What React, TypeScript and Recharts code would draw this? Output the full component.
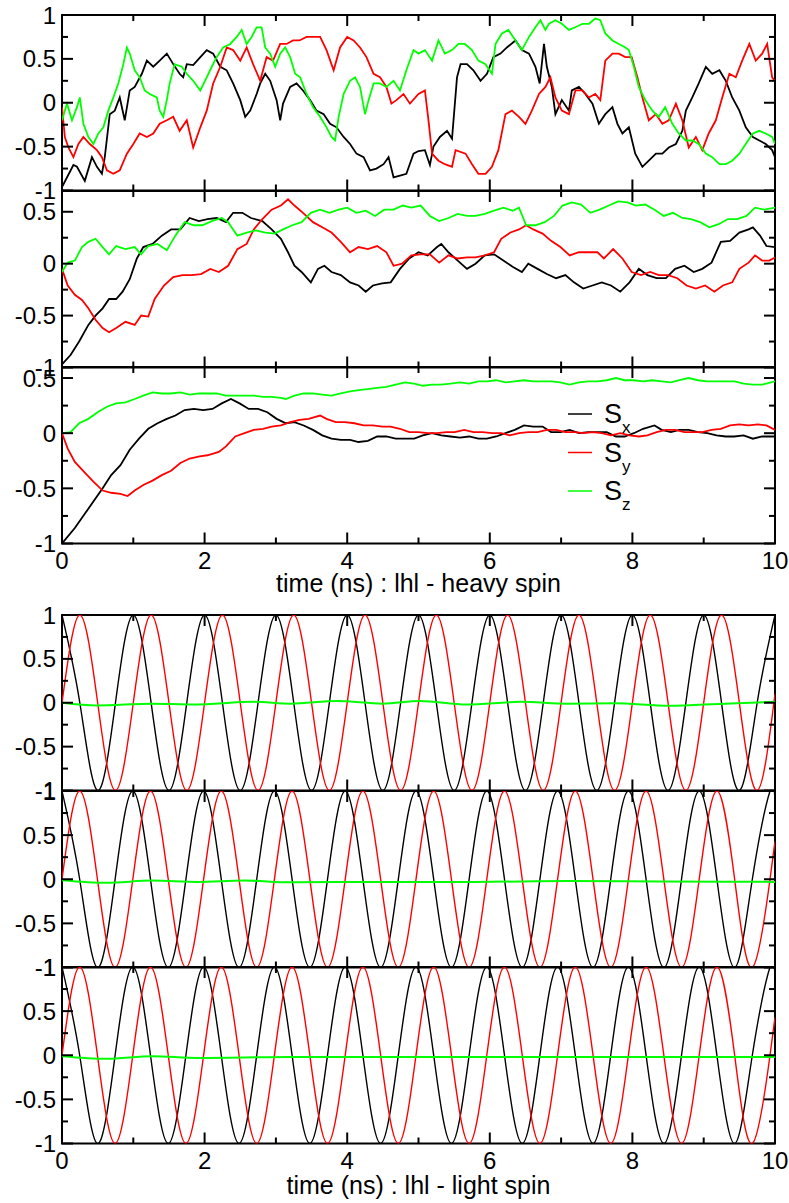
import React from 'react';
import { LineChart, Line, XAxis, YAxis, ReferenceArea, Legend } from 'recharts';

type Pt = [number, number];

const FONT = "'Liberation Sans', Arial, Helvetica, sans-serif";
const BLACK = '#000000';
const RED = '#ff0000';
const GREEN = '#00ff00';

const xTicks = [0, 1, 2, 3, 4, 5, 6, 7, 8, 9, 10];
const yTicksFull = [-1, -0.75, -0.5, -0.25, 0, 0.25, 0.5, 0.75, 1];
const yTicksShort = [-1, -0.75, -0.5, -0.25, 0, 0.25, 0.5];
const spinNames = ['x', 'y', 'z'];

// heavy spin, panel 1
const h1Sx: Pt[] = [
  [0, -0.96], [0.16, -0.71], [0.21, -0.73], [0.32, -0.89], [0.42, -0.62], [0.49, -0.73], [0.56, -0.81], [0.6, -0.62],
  [0.67, -0.13], [0.74, -0.09], [0.81, 0.06], [0.88, -0.2], [0.95, 0.14], [1.02, 0.18], [1.12, 0.33], [1.19, 0.48],
  [1.28, 0.41], [1.37, 0.48], [1.47, 0.56], [1.56, 0.44], [1.65, 0.33], [1.7, 0.29], [1.75, 0.44], [1.84, 0.43],
  [1.94, 0.52], [2.03, 0.6], [2.12, 0.56], [2.22, 0.41], [2.31, 0.37], [2.4, 0.22], [2.5, 0.03], [2.57, -0.16],
  [2.64, -0.09], [2.73, 0.1], [2.78, 0.22], [2.85, 0.33], [2.92, 0.25], [3.01, 0.03], [3.06, -0.2], [3.1, -0.01],
  [3.2, 0.18], [3.29, 0.22], [3.38, 0.14], [3.48, 0.03], [3.57, -0.09], [3.67, -0.13], [3.76, -0.24], [3.85, -0.28],
  [3.95, -0.39], [4.04, -0.47], [4.13, -0.58], [4.23, -0.62], [4.32, -0.77], [4.41, -0.75], [4.51, -0.7], [4.58, -0.62],
  [4.65, -0.85], [4.74, -0.83], [4.83, -0.81], [4.93, -0.58], [5.0, -0.55], [5.09, -0.54], [5.16, -0.71], [5.21, -0.5],
  [5.3, -0.39], [5.4, -0.32], [5.47, -0.41], [5.54, 0.29], [5.59, 0.44], [5.68, 0.44], [5.77, 0.37], [5.87, 0.25],
  [5.96, 0.33], [6.05, 0.52], [6.15, 0.56], [6.24, 0.63], [6.36, 0.71], [6.45, 0.6], [6.55, 0.56], [6.64, 0.41],
  [6.7, 0.22], [6.76, 0.67], [6.8, 0.41], [6.87, 0.18], [6.92, -0.13], [7.01, 0.03], [7.11, -0.09], [7.15, 0.14],
  [7.25, 0.18], [7.34, 0.1], [7.44, -0.01], [7.53, -0.24], [7.62, -0.13], [7.72, -0.05], [7.79, -0.24], [7.86, -0.35],
  [7.95, -0.28], [8.04, -0.58], [8.14, -0.73], [8.23, -0.66], [8.33, -0.58], [8.42, -0.58], [8.51, -0.51], [8.61, -0.47],
  [8.7, -0.32], [8.75, -0.09], [8.84, 0.06], [8.93, 0.22], [9.03, 0.41], [9.12, 0.33], [9.22, 0.37], [9.31, 0.25],
  [9.4, 0.06], [9.5, -0.09], [9.59, -0.28], [9.69, -0.39], [9.78, -0.43], [9.87, -0.47], [9.96, -0.54], [10, -0.62],
];
const h1Sy: Pt[] = [
  [0, -0.05], [0.04, -0.39], [0.09, -0.51], [0.16, -0.62], [0.23, -0.47], [0.3, -0.39], [0.39, -0.47], [0.49, -0.54],
  [0.56, -0.62], [0.63, -0.77], [0.72, -0.81], [0.81, -0.77], [0.91, -0.58], [1.0, -0.47], [1.09, -0.35], [1.19, -0.39],
  [1.28, -0.35], [1.37, -0.24], [1.47, -0.2], [1.56, -0.16], [1.65, -0.32], [1.75, -0.2], [1.84, -0.51], [1.94, -0.28],
  [2.03, -0.09], [2.12, 0.22], [2.22, 0.41], [2.31, 0.63], [2.4, 0.6], [2.5, 0.48], [2.59, 0.63], [2.68, 0.44],
  [2.78, 0.25], [2.87, 0.52], [2.96, 0.48], [3.06, 0.67], [3.15, 0.67], [3.24, 0.71], [3.33, 0.71], [3.43, 0.75],
  [3.52, 0.75], [3.62, 0.75], [3.71, 0.6], [3.81, 0.37], [3.9, 0.63], [4.0, 0.75], [4.09, 0.71], [4.18, 0.63],
  [4.27, 0.52], [4.37, 0.33], [4.46, 0.29], [4.55, 0.18], [4.62, -0.01], [4.69, 0.03], [4.79, 0.1], [4.88, -0.01],
  [5.0, 0.1], [5.09, 0.14], [5.14, -0.2], [5.19, -0.58], [5.28, -0.66], [5.37, -0.7], [5.47, -0.73], [5.52, -0.54],
  [5.66, -0.58], [5.75, -0.7], [5.84, -0.81], [5.94, -0.81], [6.03, -0.73], [6.12, -0.54], [6.22, -0.13], [6.31, -0.09],
  [6.41, -0.16], [6.5, -0.24], [6.59, -0.09], [6.69, 0.1], [6.78, 0.18], [6.85, 0.29], [6.92, 0.06], [7.01, -0.09],
  [7.11, -0.13], [7.2, 0.14], [7.3, 0.14], [7.39, 0.06], [7.48, 0.1], [7.55, 0.03], [7.62, 0.48], [7.72, 0.56],
  [7.81, 0.56], [7.9, 0.52], [7.99, 0.52], [8.07, 0.29], [8.14, 0.06], [8.23, -0.2], [8.33, -0.13], [8.42, -0.24],
  [8.51, -0.2], [8.61, -0.01], [8.7, -0.2], [8.79, -0.51], [8.89, -0.39], [8.98, -0.54], [9.07, -0.35], [9.17, -0.2],
  [9.26, 0.06], [9.36, 0.33], [9.45, 0.29], [9.54, 0.48], [9.64, 0.67], [9.73, 0.48], [9.82, 0.56], [9.89, 0.67],
  [9.96, 0.29], [10, 0.25],
];
const h1Sz: Pt[] = [
  [0, -0.2], [0.07, -0.01], [0.14, -0.2], [0.21, -0.05], [0.25, 0.06], [0.3, -0.24], [0.37, -0.39], [0.44, -0.47],
  [0.51, -0.35], [0.58, -0.28], [0.65, -0.09], [0.72, 0.06], [0.79, 0.22], [0.86, 0.44], [0.91, 0.63], [0.95, 0.56],
  [1.02, 0.37], [1.09, 0.29], [1.16, 0.14], [1.23, 0.1], [1.33, 0.06], [1.37, -0.09], [1.42, -0.16], [1.47, 0.03],
  [1.51, 0.22], [1.58, 0.44], [1.68, 0.41], [1.75, 0.33], [1.84, 0.25], [1.94, 0.14], [2.03, 0.29], [2.1, 0.41],
  [2.17, 0.52], [2.26, 0.63], [2.36, 0.67], [2.45, 0.75], [2.52, 0.83], [2.59, 0.67], [2.66, 0.75], [2.73, 0.86],
  [2.8, 0.86], [2.85, 0.63], [2.92, 0.56], [2.99, 0.41], [3.06, 0.56], [3.13, 0.63], [3.2, 0.52], [3.27, 0.33],
  [3.34, 0.29], [3.43, 0.1], [3.52, -0.05], [3.62, -0.16], [3.71, -0.28], [3.78, -0.39], [3.83, -0.43], [3.88, -0.16],
  [3.95, 0.1], [4.04, 0.25], [4.11, 0.29], [4.18, 0.18], [4.25, -0.13], [4.3, 0.03], [4.37, 0.22], [4.46, 0.22],
  [4.55, 0.18], [4.65, 0.25], [4.74, 0.14], [4.83, 0.37], [4.93, 0.6], [5.0, 0.56], [5.09, 0.6], [5.19, 0.48],
  [5.28, 0.71], [5.37, 0.56], [5.47, 0.6], [5.56, 0.67], [5.65, 0.67], [5.75, 0.6], [5.84, 0.48], [5.94, 0.44],
  [6.03, 0.33], [6.08, 0.67], [6.17, 0.79], [6.26, 0.83], [6.36, 0.71], [6.45, 0.6], [6.55, 0.75], [6.64, 0.86],
  [6.71, 0.94], [6.78, 0.83], [6.83, 0.9], [6.92, 0.94], [7.01, 0.9], [7.11, 0.83], [7.2, 0.86], [7.3, 0.9],
  [7.39, 0.9], [7.48, 0.96], [7.55, 0.94], [7.62, 0.79], [7.72, 0.71], [7.81, 0.67], [7.9, 0.63], [7.95, 0.6],
  [8.02, 0.41], [8.09, 0.18], [8.18, 0.03], [8.28, -0.09], [8.37, -0.16], [8.46, -0.05], [8.56, -0.24], [8.65, -0.35],
  [8.75, -0.43], [8.84, -0.43], [8.93, -0.47], [9.03, -0.58], [9.12, -0.62], [9.22, -0.7], [9.31, -0.7], [9.4, -0.66],
  [9.5, -0.58], [9.59, -0.47], [9.69, -0.35], [9.78, -0.32], [9.87, -0.35], [9.96, -0.39], [10, -0.47],
];

// heavy spin, panel 2
const h2Sx: Pt[] = [
  [0, -0.97], [0.12, -0.88], [0.24, -0.75], [0.37, -0.59], [0.47, -0.5], [0.57, -0.43], [0.66, -0.34], [0.76, -0.34],
  [0.85, -0.27], [0.95, -0.15], [1.05, 0.05], [1.14, 0.16], [1.27, 0.19], [1.4, 0.27], [1.53, 0.33], [1.66, 0.33],
  [1.79, 0.44], [1.92, 0.41], [2.04, 0.43], [2.17, 0.44], [2.3, 0.4], [2.4, 0.49], [2.53, 0.49], [2.65, 0.44],
  [2.81, 0.41], [2.94, 0.33], [3.07, 0.24], [3.17, 0.11], [3.26, -0.02], [3.36, -0.08], [3.49, -0.18], [3.59, -0.05],
  [3.68, -0.02], [3.78, -0.08], [3.91, -0.11], [4.04, -0.18], [4.16, -0.21], [4.26, -0.27], [4.36, -0.21], [4.49, -0.19],
  [4.61, -0.18], [4.74, -0.05], [4.87, 0.05], [5.0, 0.11], [5.13, 0.08], [5.26, 0.16], [5.32, 0.19], [5.42, 0.11],
  [5.55, 0.03], [5.68, -0.05], [5.8, 0.0], [5.93, 0.08], [6.06, 0.09], [6.19, 0.03], [6.32, -0.03], [6.45, -0.08],
  [6.54, 0.0], [6.67, -0.05], [6.8, -0.1], [6.93, -0.14], [7.06, -0.11], [7.18, -0.18], [7.31, -0.24], [7.44, -0.21],
  [7.57, -0.18], [7.7, -0.21], [7.83, -0.27], [7.96, -0.18], [8.09, -0.05], [8.21, -0.11], [8.34, -0.14], [8.47, -0.14],
  [8.6, -0.05], [8.73, -0.02], [8.86, -0.08], [8.98, -0.05], [9.11, 0.01], [9.24, 0.21], [9.37, 0.22], [9.5, 0.3],
  [9.63, 0.33], [9.69, 0.35], [9.79, 0.27], [9.88, 0.17], [10, 0.16],
];
const h2Sy: Pt[] = [
  [0, -0.05], [0.08, -0.21], [0.18, -0.3], [0.28, -0.35], [0.37, -0.43], [0.47, -0.54], [0.57, -0.62], [0.66, -0.66],
  [0.76, -0.62], [0.89, -0.56], [1.02, -0.59], [1.11, -0.5], [1.21, -0.51], [1.3, -0.34], [1.43, -0.21], [1.56, -0.13],
  [1.69, -0.11], [1.82, -0.11], [1.95, -0.1], [2.08, -0.05], [2.2, -0.08], [2.33, -0.02], [2.46, 0.14], [2.59, 0.19],
  [2.69, 0.33], [2.81, 0.43], [2.94, 0.52], [3.07, 0.56], [3.17, 0.62], [3.26, 0.56], [3.38, 0.49], [3.52, 0.4],
  [3.65, 0.35], [3.78, 0.3], [3.91, 0.21], [4.04, 0.11], [4.16, 0.16], [4.29, 0.14], [4.42, 0.17], [4.55, 0.11],
  [4.65, -0.02], [4.77, 0.0], [4.9, 0.08], [5.03, 0.09], [5.16, 0.09], [5.29, 0.01], [5.42, 0.08], [5.55, 0.05],
  [5.68, 0.06], [5.8, 0.06], [5.93, 0.08], [6.06, 0.11], [6.16, 0.24], [6.29, 0.3], [6.41, 0.33], [6.51, 0.37],
  [6.61, 0.33], [6.74, 0.29], [6.86, 0.22], [6.99, 0.16], [7.12, 0.08], [7.25, 0.11], [7.37, 0.11], [7.51, 0.11],
  [7.6, 0.05], [7.73, 0.14], [7.86, 0.05], [7.99, -0.08], [8.12, -0.11], [8.25, -0.08], [8.37, -0.11], [8.5, -0.11],
  [8.63, -0.14], [8.76, -0.21], [8.89, -0.24], [9.02, -0.21], [9.15, -0.27], [9.27, -0.21], [9.4, -0.18], [9.5, -0.05],
  [9.63, 0.01], [9.72, 0.08], [9.82, 0.03], [9.92, 0.03], [10, 0.06],
];
const h2Sz: Pt[] = [
  [0, -0.08], [0.08, 0.01], [0.18, 0.03], [0.28, 0.16], [0.37, 0.21], [0.47, 0.24], [0.57, 0.16], [0.66, 0.09],
  [0.76, 0.17], [0.89, 0.14], [1.02, 0.16], [1.11, 0.09], [1.21, 0.17], [1.34, 0.19], [1.47, 0.13], [1.59, 0.27],
  [1.72, 0.4], [1.85, 0.37], [1.97, 0.37], [2.1, 0.41], [2.24, 0.44], [2.33, 0.4], [2.46, 0.27], [2.59, 0.3],
  [2.72, 0.32], [2.85, 0.3], [2.98, 0.29], [3.1, 0.33], [3.23, 0.37], [3.36, 0.4], [3.49, 0.49], [3.62, 0.52],
  [3.75, 0.49], [3.88, 0.52], [4.0, 0.54], [4.13, 0.49], [4.26, 0.51], [4.39, 0.46], [4.52, 0.52], [4.65, 0.52],
  [4.78, 0.56], [4.9, 0.54], [5.03, 0.56], [5.16, 0.46], [5.29, 0.41], [5.42, 0.44], [5.55, 0.48], [5.68, 0.46],
  [5.8, 0.46], [5.93, 0.48], [6.06, 0.51], [6.19, 0.54], [6.32, 0.51], [6.41, 0.54], [6.51, 0.37], [6.64, 0.37],
  [6.77, 0.4], [6.9, 0.46], [7.02, 0.56], [7.15, 0.59], [7.28, 0.57], [7.41, 0.49], [7.54, 0.52], [7.67, 0.56],
  [7.8, 0.6], [7.93, 0.59], [8.05, 0.56], [8.18, 0.57], [8.31, 0.52], [8.44, 0.46], [8.57, 0.49], [8.7, 0.44],
  [8.82, 0.43], [8.95, 0.4], [9.08, 0.35], [9.21, 0.38], [9.34, 0.43], [9.47, 0.43], [9.6, 0.46], [9.72, 0.54],
  [9.85, 0.52], [10, 0.54],
];

// heavy spin, panel 3
const h3Sx: Pt[] = [
  [0, -1.0], [0.18, -0.86], [0.31, -0.74], [0.44, -0.62], [0.57, -0.5], [0.69, -0.38], [0.82, -0.29], [0.95, -0.15],
  [1.08, -0.05], [1.21, 0.04], [1.34, 0.09], [1.47, 0.13], [1.59, 0.16], [1.72, 0.21], [1.85, 0.22], [1.98, 0.21],
  [2.11, 0.22], [2.24, 0.27], [2.37, 0.31], [2.49, 0.27], [2.62, 0.22], [2.75, 0.22], [2.88, 0.19], [3.01, 0.13],
  [3.14, 0.09], [3.26, 0.1], [3.39, 0.07], [3.52, 0.03], [3.65, -0.02], [3.78, -0.05], [3.91, -0.06], [4.04, -0.06],
  [4.16, -0.08], [4.29, -0.07], [4.42, -0.03], [4.55, -0.03], [4.68, -0.05], [4.81, -0.05], [4.94, -0.05], [5.06, -0.02],
  [5.19, 0.0], [5.32, -0.02], [5.45, -0.03], [5.58, -0.04], [5.71, -0.03], [5.84, -0.05], [5.96, -0.05], [6.09, -0.03],
  [6.22, 0.0], [6.35, 0.03], [6.48, 0.07], [6.61, 0.06], [6.74, 0.06], [6.86, 0.01], [6.99, 0.01], [7.12, 0.03],
  [7.25, 0.0], [7.38, 0.01], [7.51, 0.01], [7.64, 0.01], [7.77, -0.03], [7.89, -0.03], [8.02, 0.0], [8.15, 0.04],
  [8.31, 0.07], [8.41, 0.03], [8.54, 0.01], [8.66, 0.03], [8.79, 0.03], [8.92, 0.01], [9.05, 0.0], [9.18, -0.02],
  [9.31, -0.03], [9.43, -0.03], [9.56, -0.02], [9.69, -0.05], [9.82, -0.03], [10, -0.03],
];
const h3Sy: Pt[] = [
  [0, 0.0], [0.08, -0.14], [0.18, -0.26], [0.31, -0.35], [0.44, -0.44], [0.57, -0.52], [0.69, -0.54], [0.82, -0.55],
  [0.92, -0.57], [1.02, -0.52], [1.14, -0.47], [1.27, -0.43], [1.4, -0.38], [1.53, -0.34], [1.66, -0.27], [1.79, -0.23],
  [1.93, -0.21], [2.04, -0.2], [2.2, -0.17], [2.3, -0.12], [2.43, -0.03], [2.56, 0.0], [2.69, 0.03], [2.82, 0.04],
  [2.94, 0.06], [3.07, 0.07], [3.2, 0.1], [3.33, 0.12], [3.46, 0.13], [3.62, 0.16], [3.71, 0.13], [3.84, 0.1],
  [3.97, 0.1], [4.1, 0.09], [4.23, 0.07], [4.36, 0.07], [4.49, 0.06], [4.61, 0.06], [4.74, 0.04], [4.87, 0.01],
  [5.0, 0.01], [5.13, 0.0], [5.26, 0.0], [5.39, 0.01], [5.51, 0.01], [5.64, 0.03], [5.77, 0.01], [5.9, 0.01],
  [6.03, 0.0], [6.16, 0.0], [6.28, -0.02], [6.41, 0.0], [6.54, 0.01], [6.67, 0.01], [6.8, 0.03], [6.93, 0.03],
  [7.06, 0.01], [7.19, 0.01], [7.31, 0.0], [7.44, 0.01], [7.57, 0.0], [7.7, -0.02], [7.83, 0.0], [7.96, -0.02],
  [8.09, -0.03], [8.21, -0.02], [8.34, 0.01], [8.47, 0.03], [8.6, 0.03], [8.73, 0.01], [8.86, 0.01], [8.98, 0.01],
  [9.11, 0.03], [9.24, 0.04], [9.37, 0.07], [9.5, 0.08], [9.63, 0.07], [9.76, 0.08], [9.88, 0.07], [10, 0.03],
];
const h3Sz: Pt[] = [
  [0, 0.0], [0.12, 0.01], [0.24, 0.09], [0.37, 0.13], [0.5, 0.19], [0.63, 0.24], [0.76, 0.27], [0.89, 0.28],
  [1.02, 0.31], [1.14, 0.34], [1.27, 0.37], [1.4, 0.36], [1.53, 0.36], [1.66, 0.37], [1.79, 0.35], [1.92, 0.36],
  [2.04, 0.36], [2.17, 0.36], [2.3, 0.34], [2.43, 0.34], [2.56, 0.34], [2.69, 0.34], [2.82, 0.33], [2.94, 0.33],
  [3.07, 0.32], [3.14, 0.31], [3.26, 0.34], [3.39, 0.36], [3.52, 0.36], [3.65, 0.35], [3.78, 0.34], [3.91, 0.36],
  [4.04, 0.38], [4.16, 0.39], [4.29, 0.4], [4.42, 0.41], [4.55, 0.42], [4.68, 0.44], [4.81, 0.46], [4.94, 0.45],
  [5.06, 0.43], [5.19, 0.44], [5.32, 0.44], [5.45, 0.45], [5.58, 0.46], [5.71, 0.45], [5.84, 0.47], [5.96, 0.47],
  [6.09, 0.48], [6.22, 0.46], [6.35, 0.47], [6.48, 0.48], [6.61, 0.47], [6.74, 0.47], [6.86, 0.47], [6.99, 0.46],
  [7.12, 0.44], [7.25, 0.46], [7.38, 0.47], [7.51, 0.47], [7.64, 0.48], [7.77, 0.5], [7.89, 0.48], [8.02, 0.48],
  [8.15, 0.47], [8.28, 0.48], [8.41, 0.47], [8.54, 0.46], [8.66, 0.48], [8.79, 0.5], [8.92, 0.48], [9.05, 0.47],
  [9.18, 0.47], [9.31, 0.47], [9.43, 0.47], [9.56, 0.45], [9.69, 0.44], [9.82, 0.44], [10, 0.47],
];

// light spin: times of the quarter-period marks (peaks, zeros, troughs)
const l4Times = [
  0, 0.25, 0.5, 0.75, 1, 1.25, 1.5, 1.75, 2, 2.25, 2.5, 2.75, 3, 3.25, 3.5, 3.75, 4, 4.25, 4.5, 4.75, 5,
  5.25, 5.5, 5.75, 6, 6.25, 6.5, 6.75, 7, 7.25, 7.5, 7.75, 8, 8.25, 8.5, 8.75, 9, 9.25, 9.5, 9.75, 10,
];
const l4SxVals = [
  1, 0, -1, 0, 1, 0, -1, 0, 1, 0, -1, 0, 1, 0, -1, 0, 1, 0, -1, 0, 1,
  0, -1, 0, 1, 0, -1, 0, 1, 0, -1, 0, 1, 0, -1, 0, 1, 0, -1, 0, 1,
];
const l4SyVals = [
  0, 1, 0, -1, 0, 1, 0, -1, 0, 1, 0, -1, 0, 1, 0, -1, 0, 1, 0, -1, 0,
  1, 0, -1, 0, 1, 0, -1, 0, 1, 0, -1, 0, 1, 0, -1, 0, 1, 0, -1, 0.1,
];
const l4Sz: Pt[] = [
  [0, 0], [0.49, -0.03], [1.27, -0.01], [1.85, -0.02], [2.69, 0.01], [3.21, -0.01], [3.86, 0.02], [4.5, -0.01],
  [5.02, 0.02], [5.67, -0.02], [6.44, 0.01], [7.09, -0.01], [7.74, -0.005], [8.52, -0.035], [9.29, -0.01], [10, 0.01],
];

const l56Times = [
  0, 0.248, 0.497, 0.745, 0.993, 1.241, 1.49, 1.738, 1.986, 2.234, 2.483, 2.731, 2.979, 3.227, 3.476, 3.724,
  3.972, 4.22, 4.469, 4.717, 4.965, 5.213, 5.462, 5.71, 5.958, 6.206, 6.455, 6.703, 6.951, 7.199, 7.448, 7.696,
  7.944, 8.192, 8.441, 8.689, 8.937, 9.185, 9.434, 9.682, 9.93, 10,
];
const l56SxVals = [
  1, 0, -1, 0, 1, 0, -1, 0, 1, 0, -1, 0, 1, 0, -1, 0, 1, 0, -1, 0, 1,
  0, -1, 0, 1, 0, -1, 0, 1, 0, -1, 0, 1, 0, -1, 0, 1, 0, -1, 0, 1, 0.9,
];
const l56SyVals = [
  0, 1, 0, -1, 0, 1, 0, -1, 0, 1, 0, -1, 0, 1, 0, -1, 0, 1, 0, -1, 0,
  1, 0, -1, 0, 1, 0, -1, 0, 1, 0, -1, 0, 1, 0, -1, 0, 1, 0, -1, 0, 0.43,
];
const l5Sz: Pt[] = [
  [0, -0.01], [0.62, -0.04], [1.27, -0.015], [1.9, -0.03], [2.56, -0.015], [3.2, -0.035], [4.5, -0.03],
  [5.8, -0.03], [7.09, -0.02], [8.4, -0.025], [10, -0.03],
];
const l6Sz: Pt[] = [
  [0, -0.01], [0.62, -0.04], [1.27, -0.01], [1.9, -0.03], [3.2, -0.02], [6.5, -0.02], [10, -0.02],
];

const zip = (ts: number[], vs: number[]): Pt[] => ts.map((t, i) => [t, vs[i]]);

interface Series {
  name: string;
  color: string;
  pts: Pt[];
  curve: 'linear' | 'natural' | 'monotone';
  width: number;
}

interface PanelProps {
  top: number;
  bottom: number;
  yMin: number;
  yMax: number;
  yTicks: number[];
  series: Series[];
  xLabels?: boolean;
  legend?: boolean;
}

const PLOT_LEFT = 62;
const PLOT_RIGHT = 775;
const PAD = 32;

function SpinLegend({ payload }: { payload?: any[] }) {
  const items = payload && payload.length ? payload : [];
  return (
    <svg width={120} height={120} style={{ overflow: 'visible' }}>
      {items.map((it: any, i: number) => {
        const cy = 14 + i * 38.5;
        return (
          <g key={i}>
            <line x1={0} x2={24} y1={cy} y2={cy} stroke={it.color} strokeWidth={1.5} />
            <text x={36} y={cy + 9} fontFamily={FONT} fontSize={27} fill="#000">
              S
            </text>
            <text x={54} y={cy + 19} fontFamily={FONT} fontSize={17} fill="#000">
              {it.value}
            </text>
          </g>
        );
      })}
    </svg>
  );
}

function Panel({ top, bottom, yMin, yMax, yTicks, series, xLabels, legend }: PanelProps) {
  const ph = bottom - top;
  const pw = PLOT_RIGHT - PLOT_LEFT;
  const chartTop = top - PAD;

  const yTick = (props: any) => {
    const { x, y, payload } = props;
    const v = payload.value as number;
    const major = Math.abs(v * 2 - Math.round(v * 2)) < 1e-6;
    const len = major ? 11 : 6;
    return (
      <g>
        <line x1={x} x2={x + len} y1={y} y2={y} stroke="#000" strokeWidth={2} />
        <line x1={x + pw - len} x2={x + pw} y1={y} y2={y} stroke="#000" strokeWidth={2} />
        {major && (
          <text x={x - 6} y={y + 8.6} textAnchor="end" fontFamily={FONT} fontSize={24} fill="#000">
            {String(v)}
          </text>
        )}
      </g>
    );
  };

  const xTick = (props: any) => {
    const { x, y, payload } = props;
    const v = payload.value as number;
    const major = v % 2 === 0;
    const len = major ? 11 : 6;
    return (
      <g>
        <line x1={x} x2={x} y1={y} y2={y - len} stroke="#000" strokeWidth={2} />
        <line x1={x} x2={x} y1={y - ph} y2={y - ph + len} stroke="#000" strokeWidth={2} />
        {xLabels && major && (
          <text x={x} y={y + 25} textAnchor="middle" fontFamily={FONT} fontSize={24} fill="#000">
            {String(v)}
          </text>
        )}
      </g>
    );
  };

  return (
    <div style={{ position: 'absolute', left: 0, top: chartTop }}>
      <LineChart
        width={789}
        height={ph + PAD * 2}
        margin={{ top: PAD, bottom: PAD - 1, left: PLOT_LEFT - 1, right: 789 - PLOT_RIGHT }}
      >
        <XAxis
          dataKey="t"
          type="number"
          domain={[0, 10]}
          ticks={xTicks}
          interval={0}
          height={1}
          tickSize={0}
          tickMargin={0}
          axisLine={false}
          tickLine={false}
          tick={xTick}
          allowDataOverflow
        />
        <YAxis
          type="number"
          domain={[yMin, yMax]}
          ticks={yTicks}
          interval={0}
          width={1}
          tickSize={0}
          tickMargin={0}
          axisLine={false}
          tickLine={false}
          tick={yTick}
          allowDataOverflow
        />
        {series.map((s) => (
          <Line
            key={s.name}
            name={s.name}
            data={s.pts.map(([t, v]) => ({ t, v }))}
            dataKey="v"
            type={s.curve}
            stroke={s.color}
            strokeWidth={s.width}
            dot={false}
            activeDot={false}
            isAnimationActive={false}
          />
        ))}
        <ReferenceArea
          x1={0}
          x2={10}
          y1={yMin}
          y2={yMax}
          fill="none"
          fillOpacity={0}
          stroke="#000"
          strokeWidth={2}
          ifOverflow="visible"
        />
        {legend && (
          <Legend
            layout="vertical"
            align="center"
            verticalAlign="middle"
            content={(p: any) => <SpinLegend payload={p.payload} />}
            wrapperStyle={{ position: 'absolute', left: 568, top: 400 - chartTop, width: 120, height: 120 }}
          />
        )}
      </LineChart>
    </div>
  );
}

const heavy = (sx: Pt[], sy: Pt[], sz: Pt[]): Series[] => [
  { name: spinNames[0], color: BLACK, pts: sx, curve: 'linear', width: 1.8 },
  { name: spinNames[1], color: RED, pts: sy, curve: 'linear', width: 1.8 },
  { name: spinNames[2], color: GREEN, pts: sz, curve: 'linear', width: 1.8 },
];

const light = (sx: Pt[], sy: Pt[], sz: Pt[]): Series[] => [
  { name: spinNames[0], color: BLACK, pts: sx, curve: 'natural', width: 1.4 },
  { name: spinNames[1], color: RED, pts: sy, curve: 'natural', width: 1.4 },
  { name: spinNames[2], color: GREEN, pts: sz, curve: 'monotone', width: 2 },
];

const titleStyle: React.CSSProperties = {
  position: 'absolute',
  left: PLOT_LEFT,
  width: PLOT_RIGHT - PLOT_LEFT,
  textAlign: 'center',
  fontFamily: FONT,
  fontSize: 25,
  lineHeight: '28px',
  color: '#000',
};

export default function App() {
  return (
    <div style={{ position: 'absolute', left: 0, top: 0, width: 789, height: 1203, background: '#fff' }}>
      <Panel top={15} bottom={190.5} yMin={-1} yMax={1} yTicks={yTicksFull} series={heavy(h1Sx, h1Sy, h1Sz)} />
      <Panel top={190.5} bottom={367} yMin={-1} yMax={0.7} yTicks={yTicksShort} series={heavy(h2Sx, h2Sy, h2Sz)} />
      <Panel
        top={367}
        bottom={543.5}
        yMin={-1}
        yMax={0.6}
        yTicks={yTicksShort}
        series={heavy(h3Sx, h3Sy, h3Sz)}
        xLabels
        legend
      />
      <div style={{ ...titleStyle, top: 569 }}>time (ns) : lhl - heavy spin</div>

      <Panel
        top={615}
        bottom={790.5}
        yMin={-1}
        yMax={1}
        yTicks={yTicksFull}
        series={light(zip(l4Times, l4SxVals), zip(l4Times, l4SyVals), l4Sz)}
      />
      <Panel
        top={790.5}
        bottom={967}
        yMin={-1}
        yMax={1}
        yTicks={yTicksFull}
        series={light(zip(l56Times, l56SxVals), zip(l56Times, l56SyVals), l5Sz)}
      />
      <Panel
        top={967}
        bottom={1143.5}
        yMin={-1}
        yMax={1}
        yTicks={yTicksFull}
        series={light(zip(l56Times, l56SxVals), zip(l56Times, l56SyVals), l6Sz)}
        xLabels
      />
      <div style={{ ...titleStyle, top: 1171 }}>time (ns) : lhl - light spin</div>
    </div>
  );
}
